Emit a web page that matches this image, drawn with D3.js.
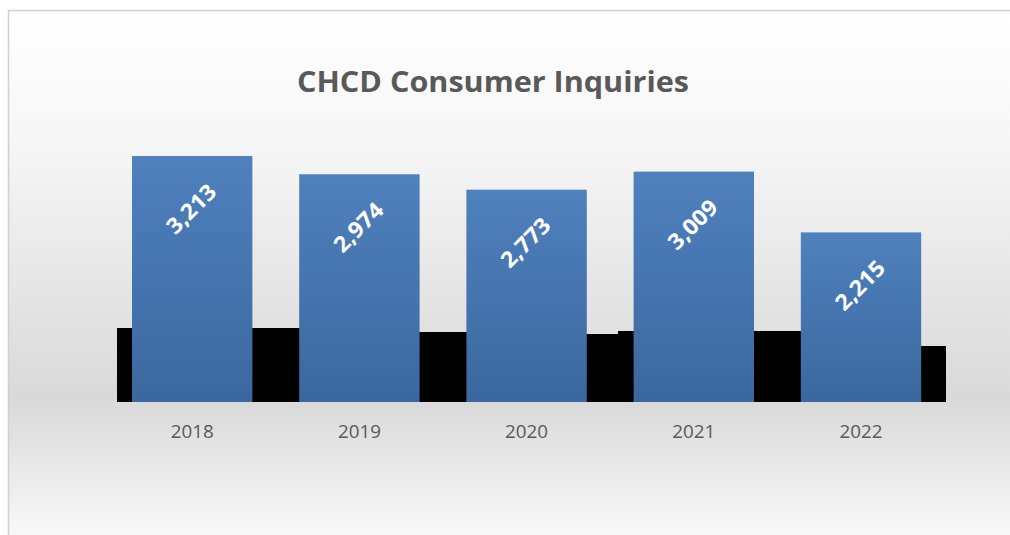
<!DOCTYPE html>
<html>
<head>
<meta charset="utf-8">
<script src="https://cdn.jsdelivr.net/npm/d3@7"></script>
<style>
  body { margin: 0; background: #fff; }
  svg { display: block; }
</style>
</head>
<body>
<div id="chart"></div>
<script>
// chart data
var years = ["2018", "2019", "2020", "2021", "2022"]
var inquiries = [3213, 2974, 2773, 3009, 2215]

// black backdrop series, in category-index units along x
var shadowFrom = [-0.45, 1.0, 2.0, 2.545, 4.0]
var shadowTo = [1.0, 2.0, 2.545, 4.0, 4.51]
var shadowValues = [966, 914, 884, 927, 735]

var W = 1010, H = 535

var svg = d3.select("#chart").append("svg")
  .attr("width", W)
  .attr("height", H)

var defs = svg.append("defs")

// chart area background: white -> light grey -> white
var bg = defs.append("linearGradient")
  .attr("id", "bgGrad")
  .attr("x1", 0).attr("y1", 0).attr("x2", 0).attr("y2", 1)
bg.append("stop").attr("offset", "0%").attr("stop-color", "#ffffff")
bg.append("stop").attr("offset", "22%").attr("stop-color", "#f7f7f7")
bg.append("stop").attr("offset", "70%").attr("stop-color", "#d9d9d9")
bg.append("stop").attr("offset", "100%").attr("stop-color", "#ffffff")

// bar fill
var barGrad = defs.append("linearGradient")
  .attr("id", "barGrad")
  .attr("x1", 0).attr("y1", 0).attr("x2", 0).attr("y2", 1)
barGrad.append("stop").attr("offset", "0%").attr("stop-color", "#4f81bd")
barGrad.append("stop").attr("offset", "100%").attr("stop-color", "#3b679f")

svg.append("rect")
  .attr("x", 8.5).attr("y", 10.5)
  .attr("width", W + 20).attr("height", H + 20)
  .attr("fill", "url(#bgGrad)")
  .attr("stroke", "#d0d0d0")
  .attr("stroke-width", 1.5)

// title
svg.append("text")
  .attr("x", 493)
  .attr("y", 92)
  .attr("text-anchor", "middle")
  .attr("font-family", "'Open Sans', sans-serif")
  .attr("font-weight", 700)
  .attr("font-size", 28)
  .attr("fill", "#595959")
  .attr("textLength", 392)
  .attr("lengthAdjust", "spacingAndGlyphs")
  .text("CHCD Consumer Inquiries")

// scales
var x = d3.scaleBand()
  .domain(years)
  .range([108.6, 944.6])
  .paddingInner(0.28)
  .paddingOuter(0.14)

var y = d3.scaleLinear()
  .domain([0, 3500])
  .range([402, 134])

var pos = d3.scaleLinear()
  .domain([0, years.length - 1])
  .range([x(years[0]) + x.bandwidth() / 2, x(years[years.length - 1]) + x.bandwidth() / 2])

// black backdrop blocks
svg.append("g")
  .attr("shape-rendering", "crispEdges")
  .selectAll("rect")
  .data(shadowValues)
  .enter()
  .append("rect")
  .attr("x", function(d, i) { return Math.round(pos(shadowFrom[i])) })
  .attr("width", function(d, i) { return Math.round(pos(shadowTo[i])) - Math.round(pos(shadowFrom[i])) })
  .attr("y", function(d) { return y(d) })
  .attr("height", function(d) { return y(0) - y(d) })
  .attr("fill", "#000")

// bars
svg.append("g").selectAll("rect")
  .data(inquiries)
  .enter()
  .append("rect")
  .attr("x", function(d, i) { return x(years[i]) })
  .attr("width", x.bandwidth())
  .attr("y", function(d) { return y(d) })
  .attr("height", function(d) { return y(0) - y(d) })
  .attr("fill", "url(#barGrad)")

// rotated value labels
svg.append("g").selectAll("text")
  .data(inquiries)
  .enter()
  .append("text")
  .attr("transform", function(d, i) {
    return "translate(" + (x(years[i]) + x.bandwidth() / 2 - 1) + "," + (y(d) + 53) + ") rotate(-45)"
  })
  .attr("text-anchor", "middle")
  .attr("dy", "0.35em")
  .attr("font-family", "'Open Sans', sans-serif")
  .attr("font-weight", 700)
  .attr("font-size", 22)
  .attr("fill", "#ffffff")
  .attr("textLength", 60)
  .attr("lengthAdjust", "spacingAndGlyphs")
  .text(function(d) { return d3.format(",")(d) })

// x axis
var xAxis = d3.axisBottom(x).tickSize(0).tickPadding(23)
var gx = svg.append("g")
  .attr("transform", "translate(0," + y(0) + ")")
  .call(xAxis)
gx.select(".domain").remove()
gx.selectAll("text")
  .attr("font-family", "'Open Sans', sans-serif")
  .attr("font-size", 18)
  .attr("fill", "#595959")
  .attr("textLength", 43)
  .attr("lengthAdjust", "spacingAndGlyphs")
</script>
</body>
</html>
